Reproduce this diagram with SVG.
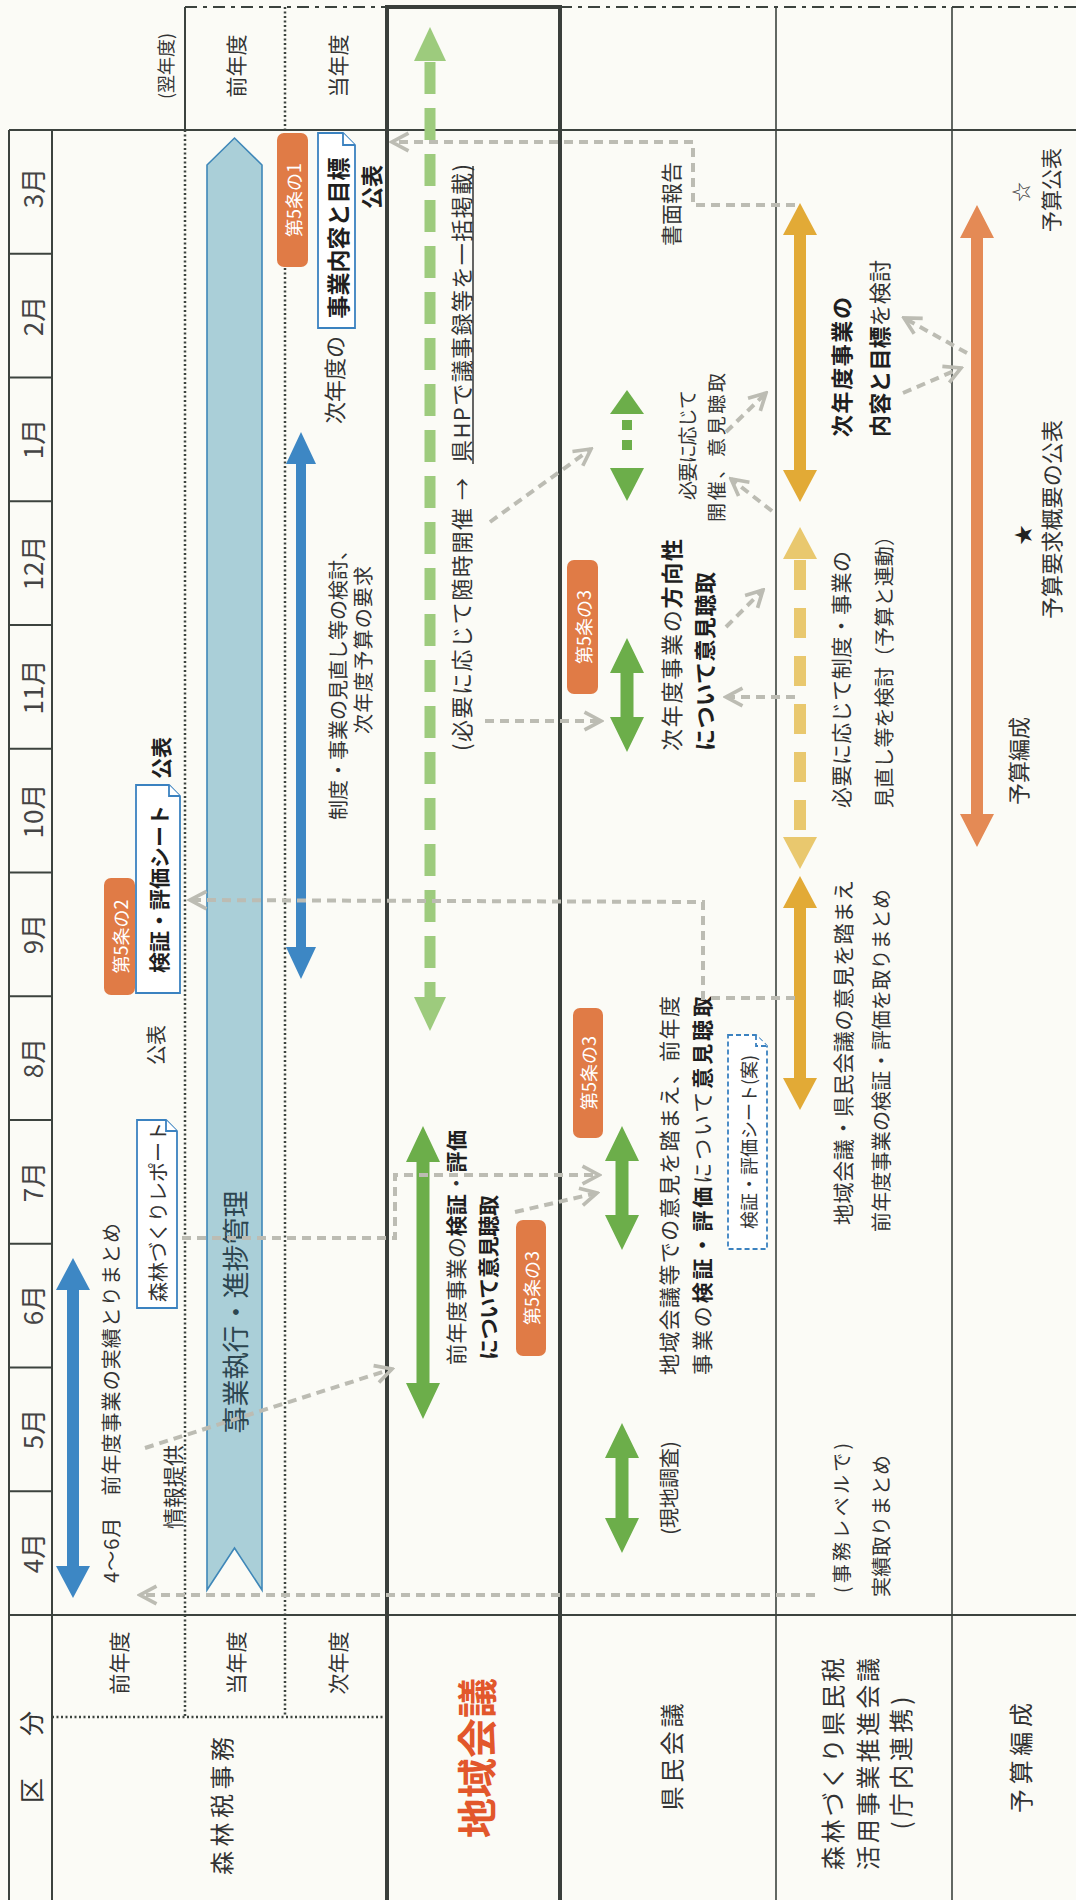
<svg xmlns="http://www.w3.org/2000/svg" width="1076" height="1900" viewBox="0 0 1076 1900">
<style>
.t{font-family:"Noto Sans CJK JP","Noto Sans",sans-serif;font-size:21px;fill:#333;dominant-baseline:central}
.m{text-anchor:middle}
.e{text-anchor:end}
.b{font-weight:bold;fill:#1f1f1f}
.mon{font-size:26px;fill:#444}
.bt{font-family:"Noto Sans CJK JP","Noto Sans",sans-serif;font-size:18px;fill:#fff;text-anchor:middle;dominant-baseline:central}
.badge{fill:#e07b46}
.ln{stroke:#3c433e;stroke-width:2;fill:none}
.thin{stroke:#3c433e;stroke-width:1.6;fill:none}
.thick{stroke:#3a3f3b;stroke-width:4;fill:none}
.dot{stroke:#3c433e;stroke-width:2.5;stroke-dasharray:2 2.5;fill:none}
.dash{stroke:#3c433e;stroke-width:2;stroke-dasharray:12 6 4 6;fill:none}
.doc{fill:#fff;stroke:#3b82c0;stroke-width:1.8}
.docd{fill:#fff;stroke:#3b82c0;stroke-width:1.8;stroke-dasharray:5 3}
.con{stroke:#bcbcb3;stroke-width:4;stroke-dasharray:9 6;fill:none;marker-end:url(#ah)}
.blue{fill:#3d87c4}
.green{fill:#6cae4a}
.lgreen{fill:#9dcb7d}
.yel{fill:#e2aa36}
.lyel{fill:#e9c86e}
.org{fill:#e48a55}
</style>
<defs>
<marker id="ah" viewBox="0 0 12 12" refX="10.5" refY="6" markerWidth="22" markerHeight="22" orient="auto" markerUnits="userSpaceOnUse">
<path d="M1.5,1.2 L10.5,6 L1.5,10.8" fill="none" stroke="#bcbcb3" stroke-width="2"/>
</marker>
</defs>
<rect x="0" y="0" width="1076" height="1900" fill="#fbfbf6"/>

<g id="grid">
<line class="ln" x1="9" y1="130" x2="9" y2="1900" stroke-width="2.5"/>
<line class="ln" x1="9" y1="130" x2="1076" y2="130"/>
<line class="ln" x1="9" y1="1615" x2="1076" y2="1615"/>
<line class="ln" x1="52" y1="130" x2="52" y2="1900"/>
<line class="ln" x1="9" y1="253.75" x2="52" y2="253.75"/>
<line class="ln" x1="9" y1="377.5" x2="52" y2="377.5"/>
<line class="ln" x1="9" y1="501.25" x2="52" y2="501.25"/>
<line class="ln" x1="9" y1="625" x2="52" y2="625"/>
<line class="ln" x1="9" y1="748.75" x2="52" y2="748.75"/>
<line class="ln" x1="9" y1="872.5" x2="52" y2="872.5"/>
<line class="ln" x1="9" y1="996.25" x2="52" y2="996.25"/>
<line class="ln" x1="9" y1="1120" x2="52" y2="1120"/>
<line class="ln" x1="9" y1="1243.75" x2="52" y2="1243.75"/>
<line class="ln" x1="9" y1="1367.5" x2="52" y2="1367.5"/>
<line class="ln" x1="9" y1="1491.25" x2="52" y2="1491.25"/>
<line class="ln" x1="185" y1="7" x2="185" y2="130"/>
<line class="dot" x1="185" y1="130" x2="185" y2="1717"/>
<line class="dot" x1="285" y1="7" x2="285" y2="1717"/>
<line class="dot" x1="52" y1="1717" x2="387" y2="1717"/>
<line class="dash" x1="185" y1="7" x2="387" y2="7"/>
<line class="dash" x1="560" y1="7" x2="1076" y2="7"/>
<line class="thin" x1="776" y1="7" x2="776" y2="1900"/>
<line class="thin" x1="952" y1="7" x2="952" y2="1900"/>
<line class="thick" x1="387" y1="7" x2="387" y2="1900"/>
<line class="thick" x1="560" y1="7" x2="560" y2="1900"/>
<line class="thick" x1="385" y1="7" x2="562" y2="7"/>
</g>

<g id="months">
<text class="t m mon" transform="translate(31 1553) rotate(-90)">4月</text>
<text class="t m mon" transform="translate(31 1429) rotate(-90)">5月</text>
<text class="t m mon" transform="translate(31 1305) rotate(-90)">6月</text>
<text class="t m mon" transform="translate(31 1182) rotate(-90)">7月</text>
<text class="t m mon" transform="translate(31 1058) rotate(-90)">8月</text>
<text class="t m mon" transform="translate(31 934) rotate(-90)">9月</text>
<text class="t m mon" transform="translate(31 811) rotate(-90)">10月</text>
<text class="t m mon" transform="translate(31 687) rotate(-90)">11月</text>
<text class="t m mon" transform="translate(31 563) rotate(-90)">12月</text>
<text class="t m mon" transform="translate(31 439) rotate(-90)">1月</text>
<text class="t m mon" transform="translate(31 316) rotate(-90)">2月</text>
<text class="t m mon" transform="translate(31 188) rotate(-90)">3月</text>
</g>

<g id="headers">
<text class="t m" style="font-size:25px" textLength="92" transform="translate(30 1757) rotate(-90)">区　分</text>
<text class="t m" transform="translate(118 1663) rotate(-90)">前年度</text>
<text class="t m" transform="translate(235 1663) rotate(-90)">当年度</text>
<text class="t m" transform="translate(337 1663) rotate(-90)">次年度</text>
<text class="t m" style="font-size:24px" textLength="138" transform="translate(220 1806) rotate(-90)">森林税事務</text>
<text class="t m" style="font-size:40px;font-weight:bold;fill:#e2572b" transform="translate(475 1758) rotate(-90)">地域会議</text>
<text class="t m" style="font-size:24px" textLength="107" transform="translate(670 1757) rotate(-90)">県民会議</text>
<text class="t m" style="font-size:24px" textLength="212" transform="translate(831 1764) rotate(-90)">森林づくり県民税</text>
<text class="t m" style="font-size:24px" textLength="212" transform="translate(866 1764) rotate(-90)">活用事業推進会議</text>
<text class="t m" style="font-size:24px" textLength="133" transform="translate(899 1763) rotate(-90)">(庁内連携)</text>
<text class="t m" style="font-size:24px" textLength="110" transform="translate(1019 1758) rotate(-90)">予算編成</text>
<text class="t m" style="font-size:18px" transform="translate(165 66) rotate(-90)">(翌年度)</text>
<text class="t m" transform="translate(235 66) rotate(-90)">前年度</text>
<text class="t m" transform="translate(337 66) rotate(-90)">当年度</text>
</g>

<g id="n-jisseki">
<polygon class="blue" points="73,1258 90,1290 79,1290 79,1566 90,1566 73,1598 56,1566 67,1566 67,1290 56,1290"/>
<text class="t" style="font-size:20px" textLength="360" transform="translate(110 1583) rotate(-90)">4〜6月　前年度事業の実績とりまとめ</text>
</g>
<g id="n-johoteikyo">
<text class="t m" transform="translate(172 1487) rotate(-90)">情報提供</text>
</g>
<g id="n-report">
<path class="doc" d="M137,1120 L166,1120 L177,1131 L177,1308 L137,1308 Z"/>
<path class="doc" d="M166,1120 L166,1131 L177,1131" stroke-width="1.3"/>
<text class="t m" style="font-size:20px" transform="translate(157 1212) rotate(-90)">森林づくりレポート</text>
</g>
<g id="n-kohyo1">
<text class="t m" style="font-size:20px" transform="translate(155 1045) rotate(-90)">公表</text>
</g>
<g id="n-sheet">
<rect class="badge" x="104" y="878" width="31" height="117" rx="7"/>
<text class="bt" transform="translate(119.5 936.5) rotate(-90)">第5条の2</text>
<path class="doc" d="M136,785 L169,785 L180,796 L180,993 L136,993 Z"/>
<path class="doc" d="M169,785 L169,796 L180,796" stroke-width="1.3"/>
<text class="t m b" transform="translate(158 889) rotate(-90)">検証・評価シート</text>
<text class="t m b" transform="translate(160 758) rotate(-90)">公表</text>
</g>
<g id="n-ribbon">
<polygon points="207,1590 207,165 234.5,138 262,165 262,1590 234.5,1548" fill="#aacfd8" stroke="#3f87b8" stroke-width="1.6"/>
<text class="t m" style="font-size:27px;fill:#2d4650" transform="translate(234.5 1312) rotate(-90)">事業執行・進捗管理</text>
</g>
<g id="n-mokuhyo">
<rect class="badge" x="277" y="133" width="31" height="134" rx="7"/>
<text class="bt" transform="translate(292.5 200) rotate(-90)">第5条の1</text>
<path class="doc" d="M318,133 L343,133 L355,145 L355,328 L318,328 Z"/>
<path class="doc" d="M343,133 L343,145 L355,145" stroke-width="1.3"/>
<text class="t m b" style="font-size:23px" transform="translate(336.5 238) rotate(-90)">事業内容と目標</text>
<text class="t m" style="font-size:22px" transform="translate(333 380) rotate(-90)">次年度の</text>
<text class="t m b" style="font-size:22px" transform="translate(370 187) rotate(-90)">公表</text>
</g>
<g id="n-minaoshi">
<polygon class="blue" points="301,432 316,464 306,464 306,947 316,947 301,979 286,947 296,947 296,464 286,464"/>
<text class="t" style="font-size:20px" transform="translate(337 820) rotate(-90)">制度・事業の見直し等の検討、</text>
<text class="t" style="font-size:20px" textLength="168" transform="translate(362 734) rotate(-90)">次年度予算の要求</text>
</g>

<g id="n-chiiki-zuiji">
<line x1="430" y1="62" x2="430" y2="998" stroke="#9dcb7d" stroke-width="11" stroke-dasharray="32 14"/>
<polygon class="lgreen" points="430,27 446,61 414,61"/>
<polygon class="lgreen" points="414,997 446,997 430,1031"/>
<text class="t" style="font-size:22px" textLength="273" transform="translate(460 751) rotate(-90)">(必要に応じて随時開催 →</text>
<text class="t" style="font-size:22px" textLength="298" transform="translate(460 462) rotate(-90)">県HPで議事録等を一括掲載)</text>
<line x1="473" y1="464" x2="473" y2="166" stroke="#333" stroke-width="1.5"/>
</g>
<g id="n-chiiki-kensho">
<polygon class="green" points="423,1126 440,1162 429.5,1162 429.5,1383 440,1383 423,1419 406,1383 416.5,1383 416.5,1162 406,1162"/>
<text class="t" textLength="235" transform="translate(455 1365) rotate(-90)">前年度事業の<tspan class="b">検証</tspan>・<tspan class="b">評価</tspan></text>
<text class="t b" textLength="165" transform="translate(487 1360) rotate(-90)">について意見聴取</text>
<rect class="badge" x="516" y="1220" width="30" height="136" rx="7"/>
<text class="bt" transform="translate(531 1288) rotate(-90)">第5条の3</text>
</g>

<g id="n-kenmin-genchi">
<polygon class="green" points="622,1423 639,1458 628.5,1458 628.5,1518 639,1518 622,1553 605,1518 615.5,1518 615.5,1458 605,1458"/>
<text class="t m" style="font-size:20px" transform="translate(668 1488) rotate(-90)">(現地調査)</text>
</g>
<g id="n-kenmin-kensho">
<rect class="badge" x="573" y="1008" width="30" height="130" rx="7"/>
<text class="bt" transform="translate(588 1073) rotate(-90)">第5条の3</text>
<polygon class="green" points="622,1126 639,1161 628.5,1161 628.5,1215 639,1215 622,1250 605,1215 615.5,1215 615.5,1161 605,1161"/>
<text class="t" textLength="379" transform="translate(668 1375) rotate(-90)">地域会議等での意見を踏まえ、前年度</text>
<text class="t" textLength="379" transform="translate(701 1375) rotate(-90)">事業の<tspan class="b">検証・評価</tspan>について<tspan class="b">意見聴取</tspan></text>
<path class="docd" d="M728,1035 L756,1035 L767,1046 L767,1249 L728,1249 Z"/>
<path class="docd" d="M756,1035 L756,1046 L767,1046" stroke-width="1.3"/>
<text class="t m" style="font-size:18px" transform="translate(747.5 1142) rotate(-90)">検証・評価シート(案)</text>
</g>
<g id="n-kenmin-hoko">
<rect class="badge" x="567" y="560" width="31" height="134" rx="7"/>
<text class="bt" transform="translate(582.5 627) rotate(-90)">第5条の3</text>
<polygon class="green" points="627,638 644,673 633.5,673 633.5,717 644,717 627,752 610,717 620.5,717 620.5,673 610,673"/>
<text class="t" style="font-size:22px" textLength="212" transform="translate(670 751) rotate(-90)">次年度事業の<tspan class="b">方向性</tspan></text>
<text class="t b" style="font-size:22px" textLength="179" transform="translate(703 751) rotate(-90)">について意見聴取</text>
</g>
<g id="n-kenmin-hitsuyo">
<polygon class="green" points="627,390 644,414 610,414"/>
<rect class="green" x="622" y="420" width="10" height="10"/>
<rect class="green" x="622" y="440" width="10" height="10"/>
<polygon class="green" points="610,468 644,468 627,501"/>
<text class="t" style="font-size:19px" textLength="110" transform="translate(686 500) rotate(-90)">必要に応じて</text>
<text class="t" style="font-size:19px" textLength="149" transform="translate(715 522) rotate(-90)">開催、意見聴取</text>
</g>
<g id="n-shomen">
<text class="t m" transform="translate(670 204) rotate(-90)">書面報告</text>
</g>

<g id="n-suishin-mokuhyo">
<polygon class="yel" points="800,203 817,235 806,235 806,470 817,470 800,502 783,470 794,470 794,235 783,235"/>
<text class="t b" style="font-size:22px" textLength="140" transform="translate(840 437) rotate(-90)">次年度事業の</text>
<text class="t" style="font-size:22px" textLength="177" transform="translate(878 437) rotate(-90)"><tspan class="b">内容と目標</tspan>を検討</text>
</g>
<g id="n-suishin-minaoshi">
<line x1="800" y1="560" x2="800" y2="836" stroke="#e9c86e" stroke-width="12" stroke-dasharray="30 18"/>
<polygon class="lyel" points="800,527 817,559 783,559"/>
<polygon class="lyel" points="783,837 817,837 800,869"/>
<text class="t" textLength="257" transform="translate(840 808) rotate(-90)">必要に応じて制度・事業の</text>
<text class="t" style="font-size:20px" textLength="282" transform="translate(883 808) rotate(-90)">見直し等を検討（予算と連動）</text>
</g>
<g id="n-suishin-torimatome">
<polygon class="yel" points="800,876 817,908 806,908 806,1078 817,1078 800,1110 783,1078 794,1078 794,908 783,908"/>
<text class="t" textLength="345" transform="translate(842 1225) rotate(-90)">地域会議・県民会議の意見を踏まえ</text>
<text class="t" style="font-size:20px" textLength="343" transform="translate(880 1232) rotate(-90)">前年度事業の検証・評価を取りまとめ</text>
</g>
<g id="n-suishin-jimu">
<text class="t" style="font-size:19px" textLength="150" transform="translate(840 1593) rotate(-90)">(事務レベルで)</text>
<text class="t" style="font-size:20px" textLength="142" transform="translate(880 1597) rotate(-90)">実績取りまとめ</text>
</g>

<g id="n-yosan">
<polygon class="org" points="977,205 994,238 983,238 983,814 994,814 977,847 960,814 971,814 971,238 960,238"/>
<text class="t m" style="font-size:20px" transform="translate(1020 192) rotate(-90)">☆</text>
<text class="t m" transform="translate(1050 190) rotate(-90)">予算公表</text>
<text class="t m" style="font-size:20px;fill:#222" transform="translate(1022 535) rotate(-90)">★</text>
<text class="t" style="font-size:22px" textLength="199" transform="translate(1050 619) rotate(-90)">予算要求概要の公表</text>
<text class="t m" style="font-size:22px" transform="translate(1017 761) rotate(-90)">予算編成</text>
</g>

<g id="connectors">
<path class="con" d="M795,205 L693,205 L693,142 L392,142"/>
<path class="con" d="M795,998 L703,998 L703,902 L190,900"/>
<path class="con" d="M815,1595 L140,1595"/>
<path class="con" d="M145,1448 L392,1369"/>
<path class="con" d="M182,1238 L395,1238 L395,1175 L599,1175"/>
<path class="con" d="M515,1212 L597,1193"/>
<path class="con" d="M485,721 L601,721"/>
<path class="con" d="M490,522 L591,449"/>
<path class="con" d="M795,697 L726,697"/>
<path class="con" d="M726,627 L763,590"/>
<path class="con" d="M772,511 L731,479"/>
<path class="con" d="M726,432 L766,393"/>
<path class="con" d="M967,353 L904,318"/>
<path class="con" d="M903,393 L961,368"/>
</g>
</svg>
